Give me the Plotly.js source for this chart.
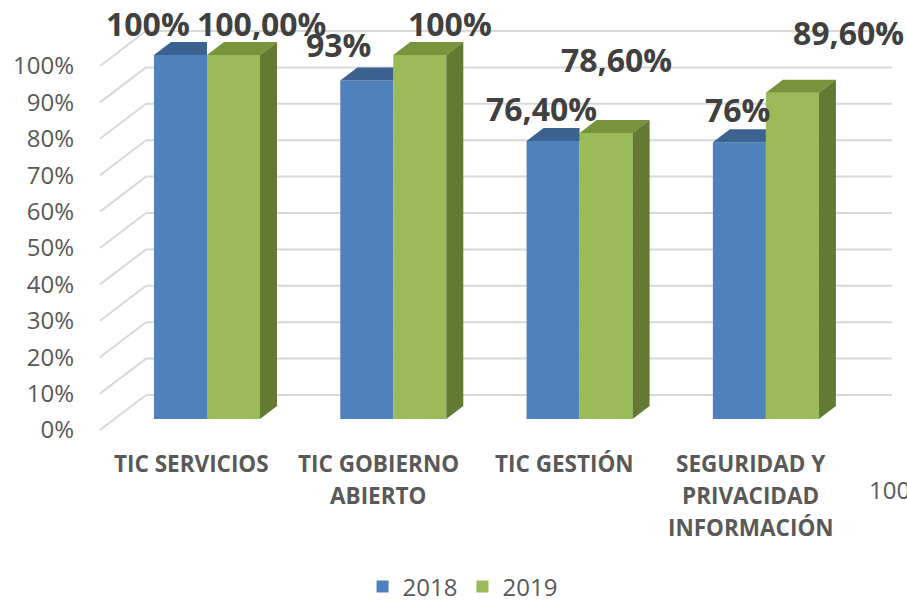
<!DOCTYPE html>
<html>
<head>
<meta charset="utf-8">
<script src="https://cdn.plot.ly/plotly-3.0.1.min.js"></script>
<style>
  html, body { margin: 0; padding: 0; background: #fff; }
  #plot { width: 907px; height: 602px; }
</style>
</head>
<body>
<div id="plot"></div>
<script>
// chart values
const categories = ['TIC SERVICIOS', 'TIC GOBIERNO<br>ABIERTO', 'TIC GESTIÓN', 'SEGURIDAD Y<br>PRIVACIDAD<br>INFORMACIÓN'];
const values2018 = [1.00, 0.93, 0.764, 0.76];
const values2019 = [1.00, 1.00, 0.786, 0.896];
const labels2018 = ['100%', '93%', '76,40%', '76%'];
const labels2019 = ['100,00%', '100%', '78,60%', '89,60%'];
const gridTicks = [0, 0.1, 0.2, 0.3, 0.4, 0.5, 0.6, 0.7, 0.8, 0.9, 1.0];

// where Excel put the data labels, in px relative to the bar top
const shift2018 = [[-32, 31], [-28, 36], [-12, 32], [-2, 33]];
const shift2019 = [[28, 31], [30, 31], [10, 73], [56, 60]];

// fake 3D look
const barW = 0.2845;   // bar width in x units
const depthX = 0.0913; // depth offset in x units
const depthY = 0.0357; // depth offset in y units
const backY = 0.0659;  // back wall offset
const frontY = -0.0302; // floor front edge offset
const wallX = 0.0581;  // back wall start (paper)

const blue = '#4F81BD', blueTop = '#3C6291';
const green = '#9BBB59', greenTop = '#77933C', greenSide = '#637A33';
const textGray = '#595959', labelGray = '#404040';

const xs = categories.map((c, i) => i);

// top faces
function topFace(vals, off, clipRight) {
  const x = [], y = [];
  vals.forEach((v, i) => {
    const x0 = i + off, x1 = x0 + barW;
    x.push(x0, x1, clipRight ? x1 : x1 + depthX, x0 + depthX, x0, null);
    y.push(v, v, v + depthY, v + depthY, v, null);
  });
  return { x, y };
}
function sideFace(vals, off) {
  const x = [], y = [];
  vals.forEach((v, i) => {
    const x1 = i + off + barW;
    x.push(x1, x1 + depthX, x1 + depthX, x1, x1, null);
    y.push(0, depthY, v + depthY, v, 0, null);
  });
  return { x, y };
}

const top18 = topFace(values2018, -barW, true);
const top19 = topFace(values2019, 0, false);
const side19 = sideFace(values2019, 0);

function face(pts, color) {
  return {
    x: pts.x, y: pts.y, type: 'scatter', mode: 'lines',
    fill: 'toself', fillcolor: color, line: { width: 0, color: color },
    showlegend: false, hoverinfo: 'skip'
  };
}

const data = [
  { x: xs, y: values2018, type: 'bar', name: '2018', offset: -barW, width: barW,
    marker: { color: blue, line: { width: 0 } } },
  { x: xs, y: values2019, type: 'bar', name: '2019', offset: 0, width: barW,
    marker: { color: green, line: { width: 0 } } },
  face(top18, blueTop),
  face(top19, greenTop),
  face(side19, greenSide)
];

// gridlines: back wall + floor diagonals
const shapes = [];
gridTicks.forEach(v => {
  shapes.push({ type: 'line', layer: 'below', xref: 'paper', yref: 'y',
    x0: wallX, x1: 1, y0: v + backY, y1: v + backY,
    line: { color: '#D9D9D9', width: 2 } });
  shapes.push({ type: 'line', layer: 'below', xref: 'paper', yref: 'y',
    x0: 0, x1: wallX, y0: v + frontY, y1: v + backY,
    line: { color: '#D9D9D9', width: 2 } });
});

const annotations = [];
values2018.forEach((v, i) => {
  annotations.push({ x: i - barW / 2, y: v, xref: 'x', yref: 'y', text: labels2018[i],
    showarrow: false, xshift: shift2018[i][0], yshift: shift2018[i][1],
    font: { family: 'Open Sans', size: 32, color: labelGray, weight: 'bold' } });
});
values2019.forEach((v, i) => {
  annotations.push({ x: i + barW / 2, y: v, xref: 'x', yref: 'y', text: labels2019[i],
    showarrow: false, xshift: shift2019[i][0], yshift: shift2019[i][1],
    font: { family: 'Open Sans', size: 32, color: labelGray, weight: 'bold' } });
});
// category labels, one annotation per line to get Excel's wide line spacing
categories.forEach((c, i) => {
  c.split('<br>').forEach((line, j) => {
    annotations.push({ x: i, y: 0, xref: 'x', yref: 'paper', text: line,
      showarrow: false, xshift: -15, yshift: -23 - 32 * j, yanchor: 'middle',
      font: { family: 'Open Sans', size: 22.5, color: textGray, weight: 'bold' } });
  });
});
// stray text cut off at the right edge
annotations.push({ x: 0.968, y: -0.116, xref: 'paper', yref: 'paper', text: '100%',
  xanchor: 'left', yanchor: 'middle', showarrow: false,
  font: { family: 'Open Sans', size: 24, color: textGray } });

const layout = {
  width: 907, height: 602,
  margin: { l: 100, r: 15, t: 10, b: 162 },
  paper_bgcolor: '#fff', plot_bgcolor: 'rgba(0,0,0,0)',
  font: { family: 'Open Sans', color: textGray },
  xaxis: { range: [-0.5743, 3.677], showgrid: false, zeroline: false,
    showticklabels: false, ticks: '', showline: false, fixedrange: true },
  yaxis: { range: [-0.0577, 1.1236], showgrid: false, zeroline: false,
    showticklabels: false, ticks: '', showline: false },
  yaxis2: { overlaying: 'y', side: 'left', anchor: 'x',
    range: [-0.0577 - frontY, 1.1236 - frontY],
    tickvals: gridTicks, tickformat: '.0%', showgrid: false, zeroline: false,
    ticks: '', ticklabelstandoff: 25, showline: false,
    tickfont: { family: 'Open Sans', size: 24, color: textGray } },
  showlegend: true,
  legend: { orientation: 'h', xref: 'container', yref: 'container',
    x: 0.51, xanchor: 'center', y: 0.025, yanchor: 'middle',
    font: { family: 'Open Sans', size: 24, color: textGray }, traceorder: 'normal' },
  shapes: shapes,
  annotations: annotations
};

// dummy trace to make yaxis2 render
data.push({ x: [0], y: [0], yaxis: 'y2', type: 'scatter', mode: 'markers',
  marker: { opacity: 0 }, showlegend: false, hoverinfo: 'skip' });

Plotly.newPlot('plot', data, layout, { staticPlot: true });
</script>
</body>
</html>
